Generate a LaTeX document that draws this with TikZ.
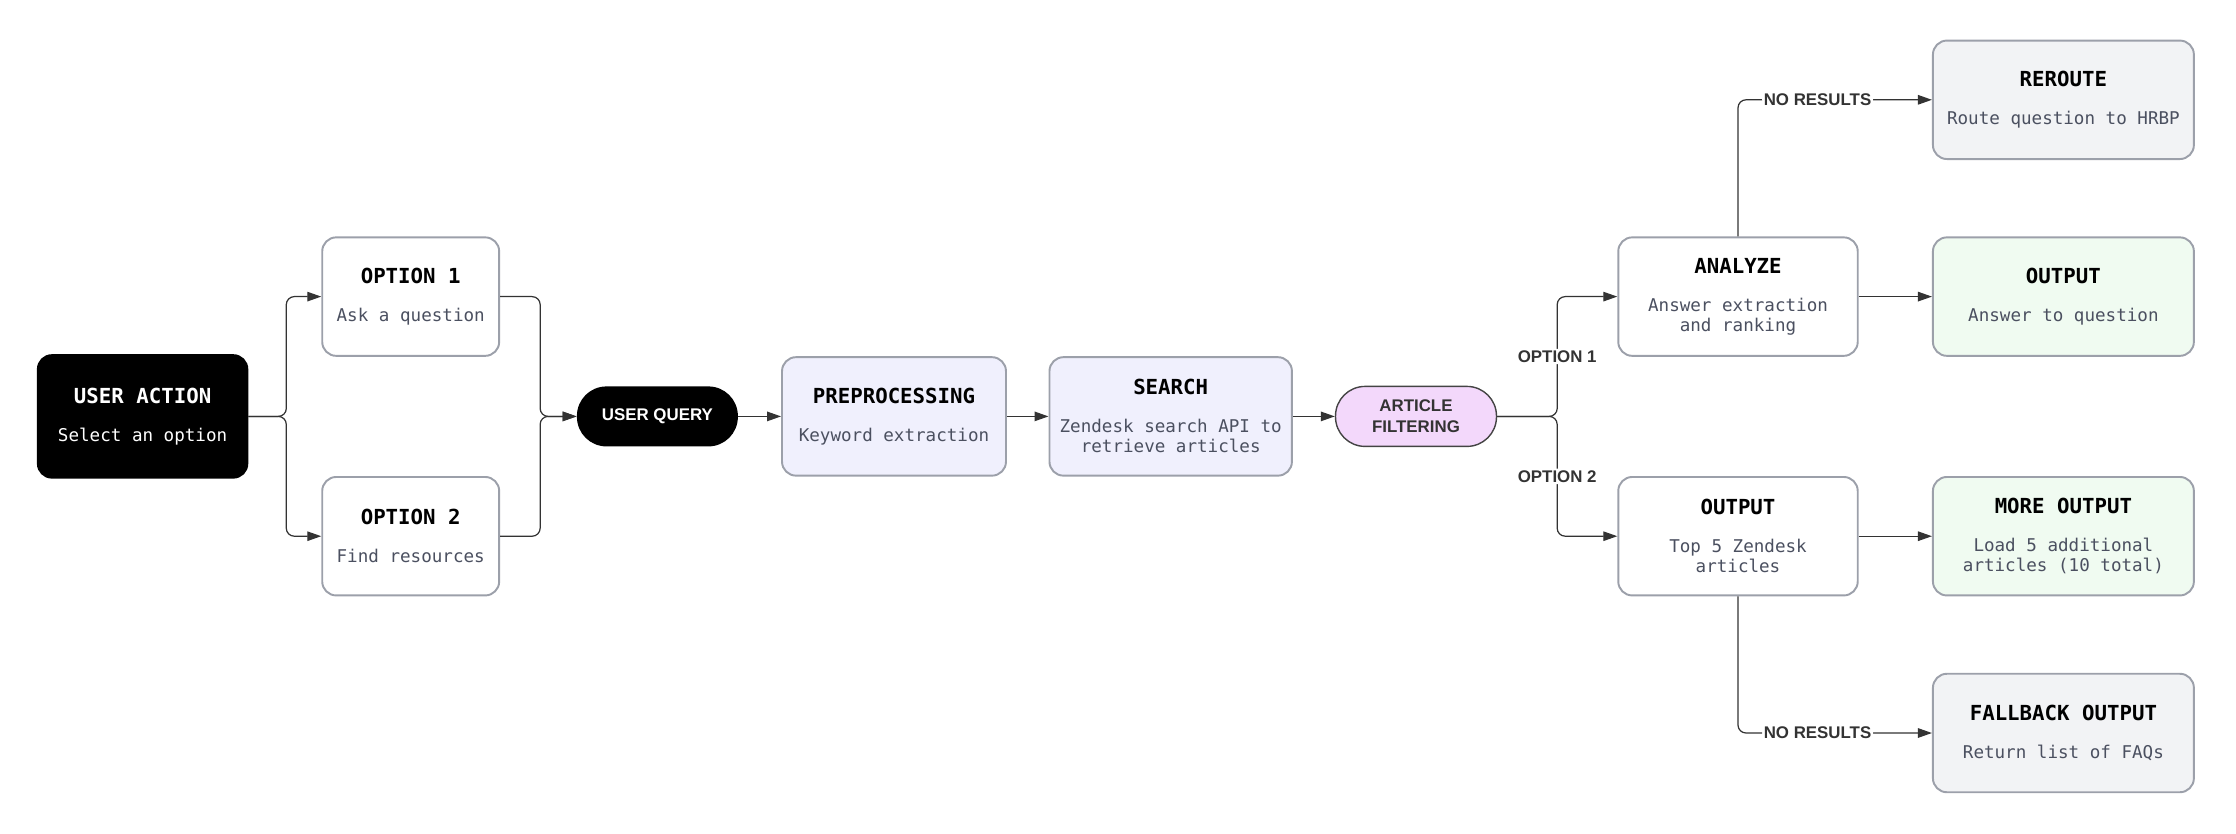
\documentclass[tikz,border=0pt]{standalone}
\usepackage{fontspec}
\setmonofont{DejaVu Sans Mono}
\setsansfont{Liberation Sans}
\usetikzlibrary{arrows.meta}
\definecolor{edgegray}{HTML}{9CA0AA}
\definecolor{linegray}{HTML}{333333}
\definecolor{descgray}{HTML}{4B5060}
\definecolor{lavender}{HTML}{F0F0FD}
\definecolor{greenfill}{HTML}{F0FBF1}
\definecolor{grayfill}{HTML}{F2F3F5}
\definecolor{pinkfill}{HTML}{F3D8FB}
\definecolor{pilledge}{HTML}{444444}
\newcommand{\boxtitle}[1]{{\fontsize{11.8}{14}\selectfont\bfseries #1}}
\newcommand{\boxdesc}[1]{\textcolor{descgray}{#1}}
\begin{document}
\begin{tikzpicture}[x=0.02cm,y=-0.02cm,
    stepbox/.style={draw=edgegray,line width=1.1pt,rounded corners=0.28cm,fill=white,
        minimum height=2.37cm,align=center,font=\ttfamily\fontsize{10}{11.5}\selectfont},
    pill/.style={rounded corners=0.59cm,minimum width=3.22cm,minimum height=1.2cm,
        align=center,font=\sffamily\bfseries\fontsize{9.6}{12}\selectfont},
    link/.style={draw=linegray,line width=0.7pt,rounded corners=0.16cm,
        -{Triangle[length=0.28cm,width=0.19cm]}},
    tag/.style={fill=white,inner sep=1pt,text=linegray,
        font=\sffamily\bfseries\fontsize{9.6}{12}\selectfont}]
                \useasboundingbox (0,0) rectangle (2236,833);
                \draw (142.6,416.4) node[stepbox,fill=black,draw=black,text=white,minimum width=4.19cm,minimum height=2.45cm] (action) {\boxtitle{USER ACTION}\\[10pt]Select an option};
                \draw (410.7,296.6) node[stepbox,minimum width=3.54cm] (opt1) {\boxtitle{OPTION 1}\\[10pt]\boxdesc{Ask a question}};
                \draw (410.7,536.2) node[stepbox,minimum width=3.54cm] (opt2) {\boxtitle{OPTION 2}\\[10pt]\boxdesc{Find resources}};
                \draw (657.4,416.4) node[pill,fill=black,text=white] (query) {USER QUERY};
                \draw (894,416.4) node[stepbox,fill=lavender,minimum width=4.48cm] (prep) {\boxtitle{PREPROCESSING}\\[10pt]\boxdesc{Keyword extraction}};
                \draw (1170.7,416.4) node[stepbox,fill=lavender,minimum width=4.85cm] (search) {\boxtitle{SEARCH}\\[10pt]\boxdesc{Zendesk search API to}\\\boxdesc{retrieve articles}};
                \draw (1416,416.4) node[pill,fill=pinkfill,draw=pilledge,line width=0.8pt,text=linegray] (filter) {ARTICLE\\FILTERING};
                \draw (1738,296.6) node[stepbox,minimum width=4.79cm] (analyze) {\boxtitle{ANALYZE}\\[10pt]\boxdesc{Answer extraction}\\\boxdesc{and ranking}};
                \draw (2063.4,296.6) node[stepbox,fill=greenfill,minimum width=5.22cm] (answer) {\boxtitle{OUTPUT}\\[10pt]\boxdesc{Answer to question}};
                \draw (2063.4,99.8) node[stepbox,fill=grayfill,minimum width=5.22cm] (reroute) {\boxtitle{REROUTE}\\[10pt]\boxdesc{Route question to HRBP}};
                \draw (1738,536.2) node[stepbox,minimum width=4.79cm] (top5) {\boxtitle{OUTPUT}\\[10pt]\boxdesc{Top 5 Zendesk}\\\boxdesc{articles}};
                \draw (2063.4,536.2) node[stepbox,fill=greenfill,minimum width=5.22cm] (more) {\boxtitle{MORE OUTPUT}\\[10pt]\boxdesc{Load 5 additional}\\\boxdesc{articles (10 total)}};
                \draw (2063.4,733) node[stepbox,fill=grayfill,minimum width=5.22cm] (fallback) {\boxtitle{FALLBACK OUTPUT}\\[10pt]\boxdesc{Return list of FAQs}};
                \draw[link] (action.east) -- ++(38,0) |- (opt1.west);
                \draw[link] (action.east) -- ++(38,0) |- (opt2.west);
                \draw[link] (opt1.east) -- ++(40,0) |- (query.west);
                \draw[link] (opt2.east) -- ++(40,0) |- (query.west);
                \draw[link] (query) -- (prep);
                \draw[link] (prep) -- (search);
                \draw[link] (search) -- (filter);
                \draw[link] (filter.east) -- ++(60,0) |- (analyze.west) node[tag,pos=0.25] {OPTION 1};
                \draw[link] (filter.east) -- ++(60,0) |- (top5.west) node[tag,pos=0.25] {OPTION 2};
                \draw[link] (analyze) -- (answer);
                \draw[link] (analyze.north) |- (reroute.west) node[tag,pos=0.705] {NO RESULTS};
                \draw[link] (top5) -- (more);
                \draw[link] (top5.south) |- (fallback.west) node[tag,pos=0.705] {NO RESULTS};
            \end{tikzpicture}
\end{document}
